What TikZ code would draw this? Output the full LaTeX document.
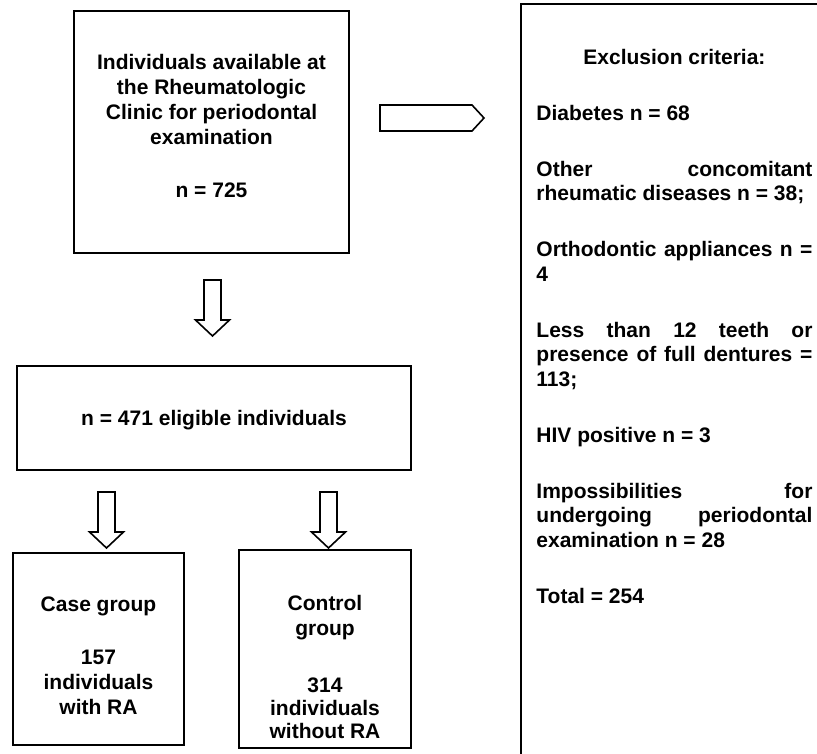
\documentclass[tikz,border=0pt]{standalone}
\usepackage{fontspec}
\setmainfont{Liberation Sans}
\usetikzlibrary{positioning}
\tikzset{
  box/.style={draw, line width=1.5pt, inner sep=0pt},
  txt/.style={inner sep=0pt, align=center, font=\fontsize{21}{25}\selectfont\bfseries},
  blockarrow/.style={draw, line width=1.6pt, line join=miter, fill=white},
  pics/downarr/.style={code={
    \draw[blockarrow] (-8.5,0) -- (-8.5,40) -- (-17,40) -- (0,56) -- (17,40) -- (8.5,40) -- (8.5,0) -- cycle;}}
}
\newcommand\fullline[1]{\makebox[276pt][s]{#1}}

\begin{document}
\begin{tikzpicture}[x=1pt,y=-1pt]
\useasboundingbox (0,0) rectangle (817,754);
\clip (0,0) rectangle (817,754);
% boxes
\node[box, minimum width=275pt, minimum height=242pt] (avail) at (211.5,132) {};
\node[box, minimum width=394pt, minimum height=104pt] (elig) at (214,418) {};
\node[box, minimum width=171pt, minimum height=192pt] (case) at (98.5,649) {};
\node[box, minimum width=172pt, minimum height=198pt] (ctrl) at (325,649) {};
\node[box, minimum width=320pt, minimum height=800pt] (excl) at (681,404) {};
% texts
\node[txt, below=43.5pt of avail.north] (availtxt) {Individuals available at\\the Rheumatologic\\Clinic for periodontal\\examination\\[28pt]n = 725};
\node[txt, below=44.5pt of elig.north] (eligtxt) {n = 471 eligible individuals};
\node[txt, below=44.5pt of case.north] (casetxt) {Case group\\[28pt]157\\individuals\\with RA};
\node[txt, below=45.5pt of ctrl.north] (ctrltxt) {Control\\group\\[32pt]314\\[-2pt]individuals\\[-2pt]without RA};
\node[txt, align=left, font=\fontsize{21}{24.5}\selectfont\bfseries,
      below right=45.5pt and 16pt of excl.north west] (excltxt) {%
\makebox[276pt]{Exclusion criteria:}\\[31.5pt]
Diabetes n = 68\\[31.5pt]
\fullline{Other concomitant}\\
rheumatic diseases n = 38;\\[31.5pt]
\fullline{Orthodontic appliances n =}\\
4\\[31.5pt]
\fullline{Less than 12 teeth or}\\
\fullline{presence of full dentures =}\\
113;\\[31.5pt]
HIV positive n = 3\\[31.5pt]
\fullline{Impossibilities for}\\
\fullline{undergoing periodontal}\\
examination n = 28\\[31.5pt]
Total = 254};
% block arrows
\draw[blockarrow] (380,105) -- (472,105) -- (484,118) -- (472,131) -- (380,131) -- cycle;
\pic at (212.5,280) {downarr};
\pic at (106.5,492) {downarr};
\pic at (328.5,492) {downarr};
\end{tikzpicture}
\end{document}
